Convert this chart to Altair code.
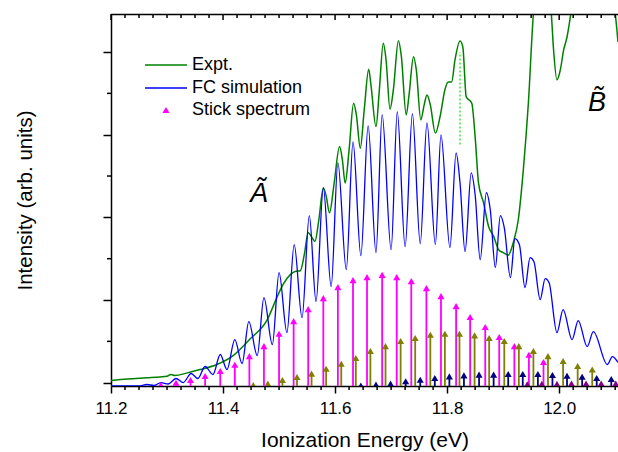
import altair as alt
import pandas as pd

# ---------------- data ----------------
# Experimental spectrum (green)
expt_x = [11.200, 11.229, 11.264, 11.288, 11.300, 11.307, 11.314, 11.336, 11.359, 11.389,
          11.418, 11.448, 11.479, 11.496, 11.507, 11.520, 11.530, 11.538, 11.545, 11.552,
          11.559, 11.564, 11.571, 11.579, 11.584, 11.590, 11.598, 11.608, 11.613, 11.618,
          11.625, 11.633, 11.638, 11.645, 11.652, 11.660, 11.664, 11.673, 11.679, 11.686,
          11.691, 11.698, 11.704, 11.713, 11.718, 11.727, 11.732, 11.740, 11.745, 11.753,
          11.759, 11.764, 11.770, 11.779, 11.788, 11.796, 11.802, 11.808, 11.814, 11.823,
          11.828, 11.834, 11.844, 11.850, 11.856, 11.865, 11.874, 11.883, 11.892, 11.900,
          11.909, 11.918, 11.927, 11.936, 11.945, 11.954, 11.962, 11.979, 11.986, 11.990,
          11.996, 12.002, 12.008, 12.014, 12.021, 12.029, 12.088, 12.100, 12.105]
expt_y = [0.066, 0.085, 0.099, 0.109, 0.118, 0.139, 0.127, 0.159, 0.199, 0.260,
          0.368, 0.568, 0.803, 1.069, 1.226, 1.347, 1.389, 1.395, 1.589, 1.854,
          1.794, 1.749, 2.011, 2.394, 2.301, 2.096, 2.434, 2.897, 2.736, 2.455,
          2.857, 3.421, 3.280, 2.877, 3.340, 3.832, 3.642, 3.138, 3.582, 4.146,
          3.944, 3.349, 3.582, 4.177, 4.005, 3.280, 3.521, 3.984, 3.823, 3.219,
          3.400, 3.521, 3.400, 3.059, 3.280, 3.582, 3.678, 3.678, 3.944, 4.174,
          4.101, 3.501, 3.421, 3.014, 2.458, 2.217, 1.930, 1.810, 1.649, 1.613,
          1.583, 1.733, 2.011, 2.615, 3.421, 4.500, 4.910, 4.910, 4.500, 4.065,
          3.703, 3.823, 4.065, 4.222, 4.512, 4.910, 4.910, 4.512, 4.161]

# Franck-Condon simulation (blue)
fc_x = [11.200, 11.234, 11.252, 11.264, 11.277, 11.289, 11.302, 11.316, 11.329, 11.343,
        11.355, 11.368, 11.382, 11.395, 11.407, 11.421, 11.434, 11.446, 11.461, 11.473,
        11.488, 11.500, 11.514, 11.527, 11.541, 11.554, 11.566, 11.579, 11.593, 11.605,
        11.620, 11.632, 11.646, 11.659, 11.673, 11.684, 11.700, 11.711, 11.725, 11.738,
        11.752, 11.764, 11.779, 11.789, 11.805, 11.816, 11.823, 11.832, 11.843, 11.850,
        11.859, 11.870, 11.877, 11.886, 11.895, 11.902, 11.913, 11.921, 11.929, 11.939,
        11.948, 11.955, 11.966, 11.975, 11.982, 11.996, 12.007, 12.023, 12.034, 12.050,
        12.061, 12.086, 12.095, 12.105]
fc_y = [0.000, 0.000, 0.002, 0.018, 0.006, 0.042, 0.024, 0.091, 0.042, 0.151,
        0.091, 0.236, 0.139, 0.381, 0.199, 0.562, 0.272, 0.779, 0.368, 1.069,
        0.501, 1.371, 0.646, 1.709, 0.827, 2.060, 1.021, 2.398, 1.202, 2.700,
        1.407, 2.954, 1.576, 3.147, 1.613, 3.280, 1.649, 3.316, 1.685, 3.292,
        1.721, 3.183, 1.709, 3.038, 1.673, 2.821, 2.458, 1.625, 2.579, 2.313,
        1.528, 2.338, 2.132, 1.431, 2.060, 1.915, 1.311, 1.782, 1.709, 1.190,
        1.552, 1.504, 1.045, 1.299, 1.250, 0.646, 0.924, 0.562, 0.791, 0.477,
        0.658, 0.260, 0.356, 0.284]

# Stick spectrum: four progressions
stick1_x = [11.289, 11.316, 11.342, 11.368, 11.395, 11.421, 11.447, 11.473, 11.500, 11.526,
            11.552, 11.579, 11.605, 11.632, 11.657, 11.684, 11.710, 11.736, 11.763, 11.789,
            11.816, 11.841, 11.868, 11.893, 11.920, 11.946, 11.972]
stick1_y = [0.012, 0.040, 0.072, 0.121, 0.181, 0.257, 0.362, 0.483, 0.632, 0.785,
            0.930, 1.063, 1.196, 1.280, 1.317, 1.345, 1.317, 1.268, 1.184, 1.087,
            0.966, 0.834, 0.713, 0.592, 0.483, 0.378, 0.290]
stick2_x = [11.454, 11.480, 11.506, 11.532, 11.558, 11.584, 11.611, 11.637, 11.663, 11.690,
            11.717, 11.743, 11.770, 11.796, 11.822, 11.849, 11.875, 11.902, 11.928, 11.954,
            11.980, 12.007, 12.033, 12.059]
stick2_y = [0.012, 0.028, 0.072, 0.109, 0.149, 0.209, 0.269, 0.338, 0.423, 0.483,
            0.544, 0.580, 0.620, 0.632, 0.632, 0.613, 0.580, 0.544, 0.483, 0.423,
            0.362, 0.302, 0.242, 0.199]
stick3_x = [11.646, 11.673, 11.699, 11.726, 11.752, 11.778, 11.804, 11.830, 11.857, 11.883,
            11.909, 11.935, 11.962, 11.988, 12.014, 12.041, 12.067, 12.093]
stick3_y = [0.004, 0.016, 0.028, 0.057, 0.076, 0.097, 0.117, 0.129, 0.137, 0.137,
            0.145, 0.145, 0.145, 0.133, 0.124, 0.112, 0.097, 0.085]
stick4_x = [11.943, 11.969, 11.996, 12.022, 12.048, 12.075, 12.101]
stick4_y = [0.020, 0.025, 0.025, 0.030, 0.030, 0.030, 0.030]

series_names = ["p1", "p2", "p3", "p4"]
series_colors = ["#FF00FF", "#808000", "#000080", "#800080"]

marker_x = [11.823, 11.823]
marker_y = [2.92, 4.04]

legend_labels = ["Expt.", "FC simulation", "Stick spectrum"]
state_labels = ["\u00C3", "B\u0303"]

x_major = [11.2, 11.4, 11.6, 11.8, 12.0]
x_minor = [round(11.2 + 0.025 * k, 3) for k in range(37) if k % 8 != 0]
y_major = [0.04, 1.04, 2.04, 3.04, 4.04]
y_minor = [0.54, 1.54, 2.54, 3.54]

# ---------------- build chart ----------------
FONT = "Liberation Sans"
W, H = 507, 372

df_expt = pd.DataFrame({"x": expt_x, "y": expt_y})
df_fc = pd.DataFrame({"x": fc_x, "y": fc_y})
rows = []
for name, xs_, ys_ in zip(series_names, [stick1_x, stick2_x, stick3_x, stick4_x],
                          [stick1_y, stick2_y, stick3_y, stick4_y]):
    for a, b in zip(xs_, ys_):
        rows.append({"x": a, "y": b, "s": name})
df_st = pd.DataFrame(rows)
df_mark = pd.DataFrame({"x": marker_x, "y": marker_y, "o": [0, 1]})

xs = alt.Scale(domain=[11.2, 12.105], nice=False, zero=False)
ys = alt.Scale(domain=[0, 4.5], nice=False, zero=False)
col = alt.Color("s:N", scale=alt.Scale(domain=series_names, range=series_colors), legend=None)

ax_bottom = alt.Axis(orient="bottom", values=x_major, format=".1f", tickSize=7,
                     domainColor="black", domainWidth=1.5, labelFont=FONT,
                     labelFontSize=17, labelColor="black", labelPadding=7,
                     labelFlush=False, labelOverlap=False, tickColor="black",
                     tickWidth=1.5, grid=False,
                     title="Ionization Energy (eV)", titleFont=FONT, titleFontSize=21,
                     titleFontWeight="normal", titleColor="black", titleX=W / 2,
                     titleY=54, titleBaseline="middle", titleAlign="center")
ax_left = alt.Axis(orient="left", values=y_major, tickSize=8, labels=False,
                   domainColor="black", domainWidth=1.5, tickColor="black",
                   tickWidth=1.5, grid=False,
                   title="Intensity (arb. units)", titleFont=FONT, titleFontSize=20.5,
                   titleFontWeight="normal", titleColor="black", titleX=-86,
                   titleY=H / 2, titleAngle=270, titleBaseline="middle",
                   titleAlign="center")

green = alt.Chart(df_expt).mark_line(color="#008000", strokeWidth=1.5, clip=True,
                                     interpolate="monotone").encode(
    x=alt.X("x:Q", scale=xs, axis=ax_bottom),
    y=alt.Y("y:Q", scale=ys, axis=ax_left))

blue = alt.Chart(df_fc).mark_line(color="#0000FF", strokeWidth=1.3, clip=True,
                                  interpolate="monotone").encode(
    x=alt.X("x:Q", scale=xs, axis=None),
    y=alt.Y("y:Q", scale=ys, axis=None))

stems = alt.Chart(df_st).mark_rule(strokeWidth=1.8, clip=True).encode(
    x=alt.X("x:Q", scale=xs, axis=None),
    y=alt.Y("y:Q", scale=ys, axis=None),
    y2=alt.datum(0),
    color=col)

heads = alt.Chart(df_st).mark_point(shape="triangle-up", filled=True, size=50, opacity=1,
                                    clip=True).encode(
    x=alt.X("x:Q", scale=xs, axis=None),
    y=alt.Y("y:Q", scale=ys, axis=None),
    color=col)

marker = alt.Chart(df_mark).mark_line(color="#66EE66", strokeWidth=2,
                                      strokeDash=[2, 2]).encode(
    x=alt.X("x:Q", scale=xs, axis=None),
    y=alt.Y("y:Q", scale=ys, axis=None),
    order="o:Q")

# extra tick marks (minor ticks, mirrored top axis with inward ticks)
tick_style = dict(color="black", strokeWidth=1.5)
df_xmaj = pd.DataFrame({"v": x_major})
df_xmin = pd.DataFrame({"v": x_minor})
df_ymin = pd.DataFrame({"v": y_minor})
ticks = [
    alt.Chart(df_xmin).mark_rule(**tick_style).encode(
        x=alt.X("v:Q", scale=xs, axis=None), y=alt.value(H), y2=alt.value(H + 4)),
    alt.Chart(df_xmaj).mark_rule(**tick_style).encode(
        x=alt.X("v:Q", scale=xs, axis=None), y=alt.value(0), y2=alt.value(6)),
    alt.Chart(df_xmin).mark_rule(**tick_style).encode(
        x=alt.X("v:Q", scale=xs, axis=None), y=alt.value(0), y2=alt.value(4)),
    alt.Chart(df_ymin).mark_rule(**tick_style).encode(
        y=alt.Y("v:Q", scale=ys, axis=None), x=alt.value(0), x2=alt.value(-4)),
    alt.Chart(pd.DataFrame({"k": [0]})).mark_rule(**tick_style).encode(
        x=alt.value(0), x2=alt.value(W), y=alt.value(0.5)),
]

one = pd.DataFrame({"k": [0]})
leg = []
leg.append(alt.Chart(one).mark_rule(color="#008000", strokeWidth=1.5).encode(
    x=alt.value(34), x2=alt.value(76), y=alt.value(51)))
leg.append(alt.Chart(one).mark_rule(color="#0000FF", strokeWidth=1.5).encode(
    x=alt.value(34), x2=alt.value(76), y=alt.value(74)))
leg.append(alt.Chart(one).mark_point(shape="triangle-up", filled=True, size=50, opacity=1,
                                     color="#FF00FF").encode(
    x=alt.value(55), y=alt.value(96)))
for lab, yy in zip(legend_labels, [51, 74, 96]):
    leg.append(alt.Chart(pd.DataFrame({"t": [lab]})).mark_text(
        align="left", baseline="middle", font=FONT, fontSize=18, color="black").encode(
        text="t:N", x=alt.value(81), y=alt.value(yy)))

# state labels (letters with tilde)
for lab, (lx, ly) in zip(state_labels, [(148, 180), (486, 89)]):
    leg.append(alt.Chart(pd.DataFrame({"t": [lab]})).mark_text(
        align="center", baseline="middle", font=FONT, fontSize=27, fontStyle="italic",
        color="black").encode(text="t:N", x=alt.value(lx), y=alt.value(ly)))

chart = alt.layer(green, blue, marker, stems, heads, *ticks, *leg).resolve_axis(
    x="independent", y="independent").properties(
    width=W, height=H,
    padding={"left": 111, "top": 14, "right": 0, "bottom": 66},
    autosize=alt.AutoSizeParams(type="none"),
    background="white").configure_view(stroke=None)

chart.save("out.html", embed_options={"renderer": "svg", "actions": False})
